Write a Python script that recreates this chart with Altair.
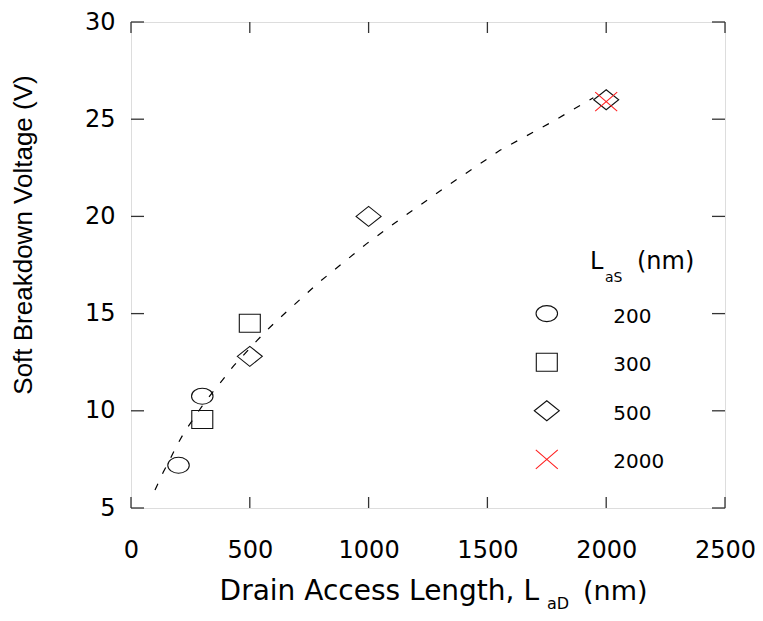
import altair as alt
import pandas as pd

# ---- data ----
groups = ["200", "300", "500", "2000"]

circle_x = [200, 300]
circle_y = [7.2, 10.75]
square_x = [300, 500]
square_y = [9.55, 14.5]
diamond_x = [500, 1000, 2000]
diamond_y = [12.8, 20.0, 26.0]
cross_x = [2000]
cross_y = [25.9]

fit_x = [101, 136, 164, 192, 220, 241, 297, 340, 389, 431, 529, 585, 655,
         795, 992, 1132, 1329, 1553, 1763, 1946]
fit_y = [5.92, 6.85, 7.5, 8.2, 8.8, 9.2, 10.2, 10.9, 11.64, 12.3, 13.6, 14.3,
         15.1, 16.65, 18.6, 19.85, 21.55, 23.4, 24.8, 26.1]

x_ticks = [0, 500, 1000, 1500, 2000, 2500]
y_ticks = [5, 10, 15, 20, 25, 30]

# ---- tables ----
pts = pd.DataFrame({
    "x": circle_x + square_x + diamond_x + cross_x,
    "y": circle_y + square_y + diamond_y + cross_y,
    "g": ["200"] * len(circle_x) + ["300"] * len(square_x)
         + ["500"] * len(diamond_x) + ["2000"] * len(cross_x),
})
fit = pd.DataFrame({"x": fit_x, "y": fit_y})
leg = pd.DataFrame({"g": groups})
xt = pd.DataFrame({"v": x_ticks})
yt = pd.DataFrame({"v": y_ticks})

W, H = 594, 486
TOP = 14
FONT = "DejaVu Sans"

paths = [
    "M-0.86,0A0.86,0.64,0,1,1,0.86,0A0.86,0.64,0,1,1,-0.86,0Z",
    "M-0.84,-0.72L0.84,-0.72L0.84,0.72L-0.84,0.72Z",
    "M-1,0L0,-0.8L1,0L0,0.8Z",
    "M-0.88,-0.76L0.88,0.76M-0.88,0.76L0.88,-0.76",
]
shape_scale = alt.Scale(domain=groups, range=paths)
color_scale = alt.Scale(domain=groups, range=["#111111", "#111111", "#111111", "#ff2020"])

xs = alt.Scale(domain=[0, 2500], nice=False, zero=False)
ys = alt.Scale(domain=[5, 30], nice=False, zero=False)

x_axis = alt.Axis(values=x_ticks, title=None, ticks=False, tickSize=0, domain=False,
                  grid=False, labelFont=FONT, labelFontSize=24, labelColor="black",
                  labelPadding=30, labelFlush=False, format="d")
y_axis = alt.Axis(values=y_ticks, title=None, ticks=False, tickSize=0, domain=False,
                  grid=False, labelFont=FONT, labelFontSize=24, labelColor="black",
                  labelPadding=16, format="d")

curve = alt.Chart(fit).mark_line(color="black", strokeWidth=1.2, strokeDash=[7, 11]).encode(
    x=alt.X("x:Q", scale=xs, axis=x_axis),
    y=alt.Y("y:Q", scale=ys, axis=y_axis),
)

points = alt.Chart(pts).mark_point(filled=False, size=625, strokeWidth=1.1, opacity=1).encode(
    x=alt.X("x:Q", scale=xs),
    y=alt.Y("y:Q", scale=ys),
    shape=alt.Shape("g:N", scale=shape_scale, legend=None),
    color=alt.Color("g:N", scale=color_scale, legend=None),
)

# legend drawn in data coordinates
leg_sym = alt.Chart(leg).transform_window(i="row_number()").transform_calculate(
    ly="17.5 - 2.5*datum.i"
).mark_point(filled=False, size=625, strokeWidth=1.1, opacity=1).encode(
    x=alt.datum(1750, scale=xs),
    y=alt.Y("ly:Q", scale=ys),
    shape=alt.Shape("g:N", scale=shape_scale, legend=None),
    color=alt.Color("g:N", scale=color_scale, legend=None),
)
leg_txt = alt.Chart(leg).transform_window(i="row_number()").transform_calculate(
    ly="17.5 - 2.5*datum.i"
).mark_text(align="left", baseline="middle", font=FONT, fontSize=20, color="black", dy=3).encode(
    x=alt.datum(2030, scale=xs),
    y=alt.Y("ly:Q", scale=ys),
    text="g:N",
)

# inward ticks on all four sides
tick_style = dict(color="#333333", strokeWidth=1.3)
t_bottom = alt.Chart(xt).mark_rule(**tick_style).encode(
    x=alt.X("v:Q", scale=xs), y=alt.value(H), y2=alt.value(H - 11))
t_top = alt.Chart(xt).mark_rule(**tick_style).encode(
    x=alt.X("v:Q", scale=xs), y=alt.value(0), y2=alt.value(11))
t_left = alt.Chart(yt).mark_rule(**tick_style).encode(
    y=alt.Y("v:Q", scale=ys), x=alt.value(0), x2=alt.value(13))
t_right = alt.Chart(yt).mark_rule(**tick_style).encode(
    y=alt.Y("v:Q", scale=ys), x=alt.value(W), x2=alt.value(W - 13))


def label(text, x, y, size, align="left", baseline="alphabetic", font=FONT, angle=0):
    kw = dict(text=text, align=align, baseline=baseline, font=font, fontSize=size, color="black")
    if angle:
        kw["angle"] = angle
    return alt.Chart(pd.DataFrame({"a": [0]})).mark_text(**kw).encode(
        x=alt.value(x), y=alt.value(y))


# positions below are relative to the plot's top-left corner
texts = [
    # y title
    label("Soft Breakdown Voltage (V)", -107, 213, 26, align="center", baseline="middle",
          font="Liberation Sans", angle=270),
    # x title
    label("Drain Access Length, L", 408, 578, 28, align="right"),
    label("aD", 416, 587, 16),
    label("(nm)", 452, 578, 27),
    # legend title
    label("L", 459, 247, 24),
    label("aS", 474, 260, 14),
    label("(nm)", 506, 247, 24),
]

chart = alt.layer(
    curve, points, leg_sym, leg_txt, t_bottom, t_top, t_left, t_right, *texts
).properties(
    width=W, height=H, autosize="none",
    padding={"left": 123, "top": TOP, "right": 30, "bottom": 105},
).configure_view(
    stroke="#6e6e6e", strokeWidth=2
).configure(background="white")

chart.save("out.html", embed_options={"renderer": "svg", "actions": False})
